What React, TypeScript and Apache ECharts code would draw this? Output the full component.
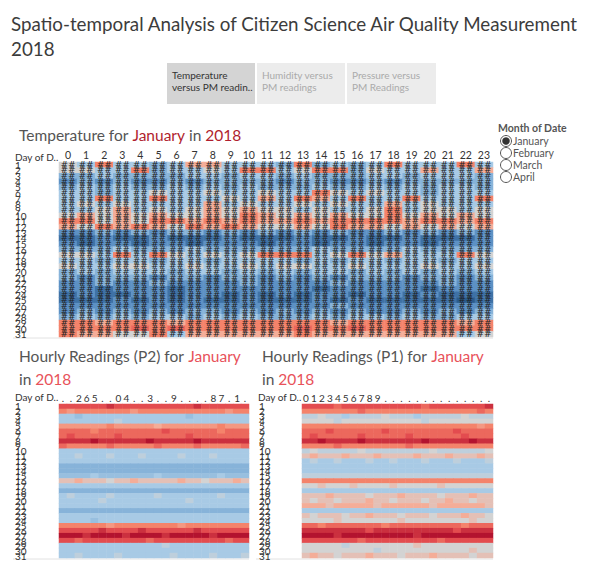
import React, { useEffect, useRef } from 'react';
import * as echarts from 'echarts';

const hourLabels = ['0','1','2','3','4','5','6','7','8','9','10','11','12','13','14','15','16','17','18','19','20','21','22','23'];
const dayLabels = ['1','2','3','4','5','6','7','8','9','10','11','12','13','14','15','16','17','18','19','20','21','22','23','24','25','26','27','28','29','30','31'];
const p2HourLabels = ['.','.','2','6','5','.','.','0','4','.','.','3','.','.','9','.','.','.','.','8','7','.','1','.'];
const p1HourLabels = ['0','1','2','3','4','5','6','7','8','9','.','.','.','.','.','.','.','.','.','.','.','.','.','.'];
const monthOptions = ['January', 'February', 'March', 'April'];

// Colour level per cell, one string per day, one char per hour.
// '0'..'9' = level 0..9 (0 = darkest blue, 5 = grey, 9 = dark red); 'a'..'i' = half levels 0.5..8.5
const temperatureRows = [
  '547443466444373434744474',
  '554473445477457735446446',
  '334333344344343334434443',
  '232322323333233223233333',
  '343433434343334334343443',
  '443445445445447545443444',
  '447447444546476474474447',
  '454544446454454544645444',
  '445645456565545445745545',
  '565656556576565655756565',
  '775657767676676777767767',
  '657676576765565766565656',
  '223232332323232322323232',
  '112112111211121121121112',
  '212212212221221221221222',
  '333433343333334333343333',
  '554747545457774575644475',
  '443443443444434344344344',
  '544554454454554454445445',
  '343444344343434434343434',
  '323332332332323233323323',
  '223223222232222322222322',
  '221222122222221222221222',
  '121122122121212212212111',
  '111212121121112121111101',
  '222222222222222322222222',
  '232323233232323232232323',
  '343434434343334344343344',
  '776777677777777677777767',
  '7777h7h777777h77h7777777',
  '766557466666676666666645',
];

const p2Rows = [
  '888888i8888888888i888888',
  '7g7777777g77777777777g77',
  '44d4444444444444d4444444',
  '4444444e4444444444444444',
  'gggggg7ggggg6ggggggg7ggg',
  'hhhh7hhhhhhhh8hhhhhh7hhh',
  'h8hhhhh8hhhhhhhh8hhhhhhh',
  'iiii9iiiiii9iiiii9iiiiii',
  'h77777h77777h7777h77777h',
  '444444444444444444444444',
  '44e444e444e4444e444e4444',
  '444444444444444444444444',
  '333333333333333333333333',
  '333333333333333333333333',
  'dddd4ddddddd4ddddddd4ddd',
  'ff6fff5ff6fffff6ff5fff6f',
  '444444444444444444444444',
  '333333333333333333333333',
  '4e4444e44444e4444444e444',
  '44444e4444444444e4444444',
  '444444444444444444444444',
  '333333333333333333333333',
  '444444444444444444444444',
  '4444d4444444444444444444',
  '777777g77777777g77777777',
  '88888i8888i888888i888888',
  '999i9999i9999i99999i9999',
  '88h88888888h888888888h88',
  '4444444444444e4444444444',
  '444444444444444444444444',
  '44e4444e444444e4444e444e',
];

const p1Rows = [
  '8888h8888888888h8888888i',
  '7777777h77777777777777h7',
  'ee5ee4eeee5eee4eeeee5eee',
  '5555e5555555555e55555555',
  '7777777777777777777777g7',
  'hhh8hhhhhh8hhhhhhhh8hhhh',
  'h8hhhhh8hhhhh8hhhhhh8hhh',
  'ii9iiii9iiiiiii9iiiii9ii',
  '7777h77777777h7777777777',
  'e5eeeee5eeeeeeee5eeeeee5',
  'f6fff6fff6ffff6fff6fff6f',
  '4e44e444e44e444e444e444e',
  '444444444444444444444444',
  '444444444444444444444444',
  'eeeeeeeeeeeeeeeeeeeeeeee',
  '777777777777777777777777',
  '55f555f5555f55555f555555',
  '444444444444444444444444',
  'fff6ffff5fff6ffff5fff6ff',
  'f5ff5fff6ff5fff5ff6ff5ff',
  '666f66666f666666f666666f',
  '444444444444444444444444',
  'f5fff5ff6fff5fff5fff6ff5',
  '5555f5555555f55555555f55',
  'hh7hhhhhhh7hhhhhhhhh7hhh',
  'iiiiiiii8iiiiiiiiii8iiii',
  '9999i999999999i999999999',
  '8888888h888888888h888888',
  '55555e55555555f555555555',
  '555555555e55555555555f55',
  'f6ff5fff6fff5fff6ffff5ff',
];

const colorScale = ['#2b5b8c', '#3f72a6', '#5d91c4', '#87b3d9', '#a8cae5', '#d3d3d3', '#f4ad98', '#f4836b', '#e34c4f', '#b3132f'];

const FONT = 'Lato, "Open Sans", sans-serif';

function level(c: string) {
  return c >= 'a' ? c.charCodeAt(0) - 97 + 0.5 : Number(c);
}

function toCells(rows: string[]) {
  const out: number[][] = [];
  rows.forEach((row, d) => {
    row.split('').forEach((c, h) => out.push([h, d, level(c)]));
  });
  return out;
}

export default function App() {
  const ref = useRef<HTMLDivElement>(null);
  useEffect(() => {
    if (!ref.current) return;
    const chart = echarts.init(ref.current, null, { renderer: 'svg' });
    const grids = [
      { left: 59, top: 162, width: 434, height: 175 },
      { left: 59, top: 404, width: 190, height: 154 },
      { left: 302, top: 404, width: 191, height: 154 },
    ];
    const xLabelSets = [hourLabels, p2HourLabels, p1HourLabels];
    const xAxis = grids.map((_, i) => ({
      type: 'category',
      gridIndex: i,
      position: 'top',
      data: hourLabels,
      axisLine: { show: false },
      axisTick: { show: false },
      splitLine: { show: false },
      axisLabel: {
        interval: 0,
        fontSize: i === 0 ? 10.5 : 10,
        color: '#333',
        fontFamily: FONT,
        margin: i === 0 ? 2 : 1,
        formatter: (_v: string, idx: number) => xLabelSets[i][idx],
      },
    }));
    const yAxis = grids.map((g, i) => ({
      type: 'category',
      gridIndex: i,
      inverse: true,
      data: dayLabels,
      axisLine: { show: false },
      axisTick: { show: false },
      splitLine: { show: false },
      axisLabel: {
        interval: 0,
        fontSize: 10,
        color: '#333',
        fontFamily: FONT,
        align: 'left',
        margin: g.left - (i === 2 ? 259 : 15),
      },
    }));
    const richTitle = (red: string) => ({
      a: { fontSize: 15.5, color: '#555', fontFamily: FONT, fontWeight: 'normal', lineHeight: 23 },
      b: { fontSize: 15.5, color: red, fontFamily: FONT, fontWeight: 'normal', lineHeight: 23 },
    });
    const graphic: any[] = [];
    const tabs = [
      { x: 167, w: 88, fill: '#d4d4d4', text: 'Temperature\nversus PM readin..', color: '#333' },
      { x: 257, w: 88, fill: '#ececec', text: 'Humidity versus\nPM readings', color: '#aaa' },
      { x: 347, w: 89, fill: '#ececec', text: 'Pressure versus\nPM Readings', color: '#aaa' },
    ];
    tabs.forEach((t) => {
      graphic.push({ type: 'rect', shape: { x: t.x, y: 63, width: t.w, height: 41 }, style: { fill: t.fill } });
      graphic.push({ type: 'text', x: t.x + 5, y: 69, style: { text: t.text, fontSize: 10, lineHeight: 12, fill: t.color, fontFamily: FONT } });
    });
    [[15, 152], [15, 392], [258, 392]].forEach(([x, y]) => {
      graphic.push({ type: 'text', x, y, style: { text: 'Day of D..', fontSize: 10, fill: '#333', fontFamily: FONT } });
    });
    [[13, 493, 338], [13, 249, 559], [256, 493, 559]].forEach(([x1, x2, y]) => {
      graphic.push({ type: 'line', shape: { x1, y1: y, x2, y2: y }, style: { stroke: '#e2e2e2', lineWidth: 1 } });
    });
    graphic.push({ type: 'text', x: 498, y: 122, style: { text: 'Month of Date', fontSize: 10.5, fontWeight: 'bold', fill: '#555', fontFamily: FONT } });
    monthOptions.forEach((m, i) => {
      const cy = 141 + i * 12;
      graphic.push({ type: 'circle', shape: { cx: 506, cy, r: 5.5 }, style: { fill: '#fff', stroke: '#555', lineWidth: 1 } });
      if (i === 0) graphic.push({ type: 'circle', shape: { cx: 506, cy, r: 3.8 }, style: { fill: '#333' } });
      graphic.push({ type: 'text', x: 513, y: cy - 6, style: { text: m, fontSize: 10.5, fill: '#555', fontFamily: FONT } });
    });

    const option: any = {
      animation: false,
      backgroundColor: '#fff',
      title: [
        {
          left: 6, top: 6,
          text: 'Spatio-temporal Analysis of Citizen Science Air Quality Measurement\n2018',
          textStyle: { fontSize: 18.8, lineHeight: 25, color: '#3c3c3c', fontWeight: 'normal', fontFamily: FONT },
        },
        {
          left: 14, top: 118,
          text: '{a|Temperature for }{b|January}{a| in }{b|2018}',
          textStyle: { rich: richTitle('#b01e2e') },
        },
        {
          left: 14, top: 339,
          text: '{a|Hourly Readings (P2) for }{b|January}\n{a|in }{b|2018}',
          textStyle: { rich: richTitle('#e8525a') },
        },
        {
          left: 257, top: 339,
          text: '{a|Hourly Readings (P1) for }{b|January}\n{a|in }{b|2018}',
          textStyle: { rich: richTitle('#e8525a') },
        },
      ],
      grid: grids,
      xAxis,
      yAxis,
      visualMap: {
        show: false,
        min: 0,
        max: 9,
        seriesIndex: [0, 1, 2],
        inRange: { color: colorScale },
      },
      series: [
        {
          type: 'heatmap', xAxisIndex: 0, yAxisIndex: 0,
          data: toCells(temperatureRows),
          label: { show: true, formatter: '##', fontSize: 9, color: '#1e1e1e', fontFamily: 'DejaVu Sans' },
          itemStyle: { borderWidth: 0 },
        },
        { type: 'heatmap', xAxisIndex: 1, yAxisIndex: 1, data: toCells(p2Rows), itemStyle: { borderWidth: 0 } },
        { type: 'heatmap', xAxisIndex: 2, yAxisIndex: 2, data: toCells(p1Rows), itemStyle: { borderWidth: 0 } },
      ],
      graphic,
    };
    chart.setOption(option);
    return () => chart.dispose();
  }, []);
  return <div ref={ref} style={{ position: 'absolute', left: 0, top: 0, width: 600, height: 569 }} />;
}
